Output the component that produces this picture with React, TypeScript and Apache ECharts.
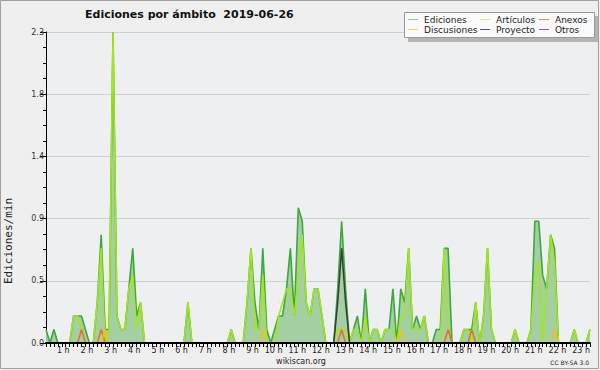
import React, { useEffect, useRef } from "react";
import * as echarts from "echarts";

const TITLE = "Ediciones por ámbito  2019-06-26";
const Y_NAME = "Ediciones/min";
const FOOTER = "wikiscan.org";
const LICENSE = "CC BY-SA 3.0";

// x positions are 10-minute slots from 0 h (0) to 23 h (138)
const HOUR_LABELS = ["", "1 h", "2 h", "3 h", "4 h", "5 h", "6 h", "7 h", "8 h", "9 h", "10 h", "11 h", "12 h",
  "13 h", "14 h", "15 h", "16 h", "17 h", "18 h", "19 h", "20 h", "21 h", "22 h", "23 h"];
const Y_MAX = 2.3;

// one row per hour (six 10-minute slots)
const EDICIONES = [
  0.1, 0, 0.1, 0, 0, 0,
  0, 0.2, 0.2, 0.2, 0.1, 0,
  0, 0.3, 0.8, 0.1, 0.1, 2.3,
  0.2, 0.1, 0.1, 0.4, 0.7, 0.2,
  0.3, 0, 0, 0, 0, 0,
  0, 0, 0, 0, 0, 0,
  0.3, 0, 0, 0, 0, 0,
  0, 0, 0, 0, 0, 0.1,
  0, 0, 0, 0.3, 0.7, 0.3,
  0.1, 0.7, 0.1, 0, 0.1, 0.2,
  0.2, 0.4, 0.7, 0.2, 1.0, 0.9,
  0.3, 0.2, 0.4, 0.4, 0.2, 0,
  0, 0, 0.4, 0.9, 0.4, 0,
  0.1, 0.2, 0, 0.4, 0, 0.1,
  0.1, 0, 0.1, 0.1, 0.4, 0,
  0.4, 0.3, 0.7, 0.1, 0.2, 0.1,
  0.2, 0, 0, 0.1, 0.1, 0.7,
  0.7, 0, 0, 0, 0.1, 0.1,
  0.1, 0.3, 0, 0.2, 0.7, 0.1,
  0, 0, 0, 0, 0, 0.1,
  0, 0, 0, 0.1, 0.9, 0.9,
  0.5, 0.4, 0.8, 0.7, 0, 0,
  0, 0, 0.1, 0, 0, 0,
  0.1,
];
const ARTICULOS = [
  0, 0, 0, 0, 0, 0,
  0, 0.2, 0.2, 0.1, 0, 0,
  0, 0.3, 0.7, 0, 0.1, 2.3,
  0.2, 0.1, 0.1, 0.4, 0.5, 0.1,
  0.3, 0, 0, 0, 0, 0,
  0, 0, 0, 0, 0, 0,
  0.3, 0, 0, 0, 0, 0,
  0, 0, 0, 0, 0, 0.1,
  0, 0, 0, 0.3, 0.7, 0.1,
  0.1, 0.5, 0, 0, 0, 0.2,
  0.3, 0.4, 0.4, 0.2, 0.5, 0.8,
  0.3, 0.2, 0.4, 0.4, 0.2, 0,
  0, 0, 0.1, 0.1, 0.1, 0,
  0.1, 0.1, 0, 0.2, 0, 0.1,
  0.1, 0, 0.1, 0.1, 0.1, 0,
  0.2, 0.2, 0.7, 0.1, 0.1, 0.1,
  0.2, 0, 0, 0, 0, 0.7,
  0.1, 0, 0, 0, 0.1, 0.1,
  0, 0.3, 0, 0.2, 0.7, 0.1,
  0, 0, 0, 0, 0, 0.1,
  0, 0, 0, 0.1, 0.5, 0.6,
  0, 0.4, 0.8, 0.6, 0, 0,
  0, 0, 0.1, 0, 0, 0,
  0.1,
];
const ANEXOS = [
  0, 0, 0, 0, 0, 0,
  0, 0, 0, 0.1, 0, 0,
  0, 0, 0.1, 0, 0, 0,
  0, 0, 0, 0, 0, 0,
  0, 0, 0, 0, 0, 0,
  0, 0, 0, 0, 0, 0,
  0, 0, 0, 0, 0, 0,
  0, 0, 0, 0, 0, 0,
  0, 0, 0, 0, 0, 0,
  0, 0, 0, 0, 0, 0,
  0, 0, 0, 0, 0, 0,
  0, 0, 0, 0, 0, 0,
  0, 0, 0, 0.1, 0, 0,
  0, 0, 0, 0, 0, 0,
  0, 0, 0, 0, 0, 0,
  0, 0, 0, 0, 0, 0,
  0, 0, 0, 0, 0, 0,
  0.1, 0, 0, 0, 0, 0,
  0.1, 0, 0, 0, 0, 0,
  0, 0, 0, 0, 0, 0,
  0, 0, 0, 0, 0, 0,
  0, 0, 0, 0, 0, 0,
  0, 0, 0, 0, 0, 0,
  0,
];
const DISCUSIONES = [
  0, 0, 0, 0, 0, 0,
  0, 0, 0, 0, 0, 0,
  0, 0, 0, 0.1, 0, 0,
  0, 0, 0, 0, 0, 0,
  0, 0, 0, 0, 0, 0,
  0, 0, 0, 0, 0, 0,
  0, 0, 0, 0, 0, 0,
  0, 0, 0, 0, 0, 0,
  0, 0, 0, 0, 0, 0,
  0, 0.1, 0, 0, 0, 0,
  0, 0, 0, 0, 0, 0,
  0, 0, 0, 0, 0, 0,
  0, 0, 0, 0, 0, 0,
  0, 0, 0, 0, 0, 0,
  0, 0, 0, 0, 0, 0,
  0.1, 0, 0, 0, 0, 0,
  0, 0, 0, 0, 0, 0,
  0, 0, 0, 0, 0, 0,
  0, 0, 0, 0, 0, 0,
  0, 0, 0, 0, 0, 0,
  0, 0, 0, 0, 0, 0,
  0, 0, 0, 0.1, 0, 0,
  0, 0, 0, 0, 0, 0,
  0,
];
const PROYECTO = [
  0, 0, 0, 0, 0, 0,
  0, 0, 0, 0, 0, 0,
  0, 0, 0, 0, 0, 0,
  0, 0, 0, 0, 0, 0,
  0, 0, 0, 0, 0, 0,
  0, 0, 0, 0, 0, 0,
  0, 0, 0, 0, 0, 0,
  0, 0, 0, 0, 0, 0,
  0, 0, 0, 0, 0, 0,
  0, 0, 0, 0, 0, 0,
  0, 0, 0, 0, 0, 0,
  0, 0, 0, 0, 0, 0,
  0, 0, 0.3, 0.7, 0.3, 0,
  0, 0, 0, 0, 0, 0,
  0, 0, 0, 0, 0, 0,
  0, 0, 0, 0, 0, 0,
  0, 0, 0, 0, 0, 0,
  0, 0, 0, 0, 0, 0,
  0, 0, 0, 0, 0, 0,
  0, 0, 0, 0, 0, 0,
  0, 0, 0, 0, 0, 0,
  0, 0, 0, 0, 0, 0,
  0, 0, 0, 0, 0, 0,
  0,
];
const OTROS = EDICIONES.map(() => 0);

const SERIES_NAMES = ["Ediciones", "Artículos", "Anexos", "Discusiones", "Proyecto", "Otros"];
const SERIES_DATA = [EDICIONES, ARTICULOS, ANEXOS, DISCUSIONES, PROYECTO, OTROS];
const COLORS = ["#3da83d", "#a6e619", "#ee6a2a", "#f0c020", "#3a3a3a", "#9440e0"];
const LEGEND_COLORS = ["#8ccc8c", "#cdf060", "#f08a5a", "#f2d050", "#555555", "#9a50e8"];
// legend order: row 1 then row 2
const LEGEND_ORDER = [0, 1, 2, 3, 4, 5];

export default function App() {
  const ref = useRef<HTMLDivElement>(null);
  useEffect(() => {
    if (!ref.current) return;
    const chart = echarts.init(ref.current, null, { renderer: "svg" });
    const font = "DejaVu Sans";
    const series: any[] = SERIES_NAMES.map((name, k) => ({
      type: "line",
      name,
      data: SERIES_DATA[k].map((v, i) => [i, v]),
      symbol: "none",
      z: 2 + k,
      lineStyle: { color: COLORS[k], width: k === 0 ? 1.6 : 1.5 },
      areaStyle: k === 0 ? { color: "#a3cfa3", opacity: 1 } : undefined,
    }));

    const colX = [408, 480, 539];
    const rowY = [19.5, 29.5];
    const legendEls: any[] = [];
    LEGEND_ORDER.forEach((k, idx) => {
      const c = idx % 3;
      const r = Math.floor(idx / 3);
      legendEls.push({
        type: "line",
        z: 30,
        shape: { x1: colX[c], y1: rowY[r], x2: colX[c] + 10, y2: rowY[r] },
        style: { stroke: LEGEND_COLORS[k], lineWidth: 1 },
      });
      legendEls.push({
        type: "text",
        z: 30,
        x: colX[c] + 16,
        y: rowY[r],
        style: {
          text: SERIES_NAMES[k],
          fill: "#222",
          fontSize: 9,
          fontFamily: font,
          textAlign: "left",
          textVerticalAlign: "middle",
        },
      });
    });

    chart.setOption({
      animation: false,
      backgroundColor: "#efefef",
      grid: { left: 46, right: 10, top: 32, bottom: 27, show: true, backgroundColor: "#eeeff1", borderWidth: 0 },
      xAxis: {
        type: "value",
        min: 0,
        max: 138,
        interval: 6,
        z: 10,
        axisLine: { show: true, lineStyle: { color: "#000", width: 2 } },
        axisTick: { show: true, length: 4, lineStyle: { color: "#000", width: 1 } },
        minorTick: { show: true, splitNumber: 6, length: 4, lineStyle: { color: "#000", width: 1 } },
        splitLine: { show: false },
        minorSplitLine: { show: false },
        axisLabel: {
          formatter: (v: number) => HOUR_LABELS[Math.round(v / 6)] ?? "",
          align: "right",
          margin: 3,
          fontSize: 8,
          fontFamily: font,
          color: "#222",
          showMinLabel: true,
          showMaxLabel: true,
          hideOverlap: false,
        },
      },
      yAxis: {
        type: "value",
        min: 0,
        max: Y_MAX,
        interval: Y_MAX / 5,
        axisLine: { show: true, lineStyle: { color: "#000", width: 1 } },
        axisTick: { show: true, length: 6, lineStyle: { color: "#000" } },
        minorTick: { show: true, splitNumber: 4, length: 3, lineStyle: { color: "#000" } },
        splitLine: { show: true, lineStyle: { color: "#cfcfcf", width: 1 } },
        axisLabel: {
          formatter: (v: number) => v.toFixed(1),
          margin: 2,
          fontSize: 8,
          fontFamily: font,
          color: "#333",
        },
      },
      series,
      graphic: [
        {
          type: "rect",
          shape: { x: 0.5, y: 0.5, width: 598, height: 368 },
          style: { fill: "none", stroke: "#a0a0a0", lineWidth: 1 },
          z: 0,
        },
        {
          type: "text",
          x: 85,
          y: 14,
          style: {
            text: TITLE,
            fill: "#111",
            fontSize: 11,
            fontWeight: "bold",
            fontFamily: font,
            textAlign: "left",
            textVerticalAlign: "middle",
          },
        },
        {
          type: "text",
          x: 8,
          y: 241,
          rotation: Math.PI / 2,
          style: {
            text: Y_NAME,
            fill: "#222",
            fontSize: 11,
            fontFamily: "DejaVu Sans Mono",
            textAlign: "center",
            textVerticalAlign: "middle",
          },
        },
        {
          type: "text",
          x: 301,
          y: 361.5,
          style: { text: FOOTER, fill: "#222", fontSize: 8, fontFamily: font, textAlign: "center", textVerticalAlign: "middle" },
        },
        {
          type: "text",
          x: 589,
          y: 362.5,
          style: { text: LICENSE, fill: "#222", fontSize: 6, fontFamily: font, textAlign: "right", textVerticalAlign: "middle" },
        },
        {
          type: "rect",
          shape: { x: 408, y: 16, width: 190, height: 26 },
          style: { fill: "#b4b4b4" },
          z: 20,
        },
        {
          type: "rect",
          shape: { x: 404.5, y: 12.5, width: 190, height: 25 },
          style: { fill: "#fafafa", stroke: "#999", lineWidth: 1 },
          z: 21,
        },
        ...legendEls,
      ],
    });
    return () => chart.dispose();
  }, []);
  return (
    <div
      ref={ref}
      style={{ position: "fixed", left: 0, top: 0, width: 600, height: 370 }}
    />
  );
}
